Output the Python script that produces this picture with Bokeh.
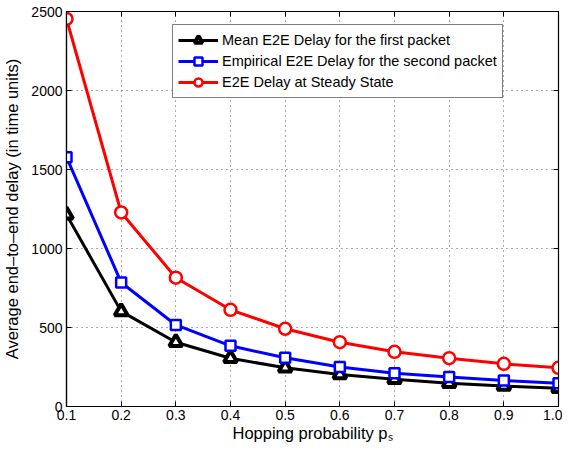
from bokeh.plotting import figure
from bokeh.models import (LinearAxis, FixedTicker, Range1d, Legend, LegendItem,
                          CustomLabelingPolicy)
from bokeh.embed import file_html
from bokeh.resources import INLINE

p_s = [0.1, 0.2, 0.3, 0.4, 0.5, 0.6, 0.7, 0.8, 0.9, 1.0]
mean_first = [1214, 602, 407, 305, 245, 203, 172, 147, 130, 115]
empirical_second = [1578, 785, 516, 384, 308, 250, 210, 187, 164, 147]
steady_state = [2453, 1228, 815, 612, 492, 407, 346, 306, 270, 245]

x_ticks = [0.1, 0.2, 0.3, 0.4, 0.5, 0.6, 0.7, 0.8, 0.9, 1.0]
y_ticks = [0, 500, 1000, 1500, 2000, 2500]

series_labels = ["Mean E2E Delay for the first packet",
                 "Empirical E2E Delay for the second packet",
                 "E2E Delay at Steady State"]

FONT = "Liberation Sans"

p = figure(width=562, height=444, output_backend="svg", toolbar_location=None,
           x_range=Range1d(0.1, 1.0), y_range=Range1d(0, 2500),
           min_border_left=66, min_border_right=4, min_border_top=11,
           min_border_bottom=36)

p.outline_line_color = "black"
p.outline_line_width = 1.2
p.background_fill_color = "white"

for ax in [p.xaxis[0], p.yaxis[0]]:
    ax.major_tick_in = 5
    ax.major_tick_out = 0
    ax.minor_tick_line_color = None
    ax.axis_line_color = "black"
    ax.axis_line_width = 1.2
    ax.major_label_text_font = FONT
    ax.major_label_text_font_size = "14px"
    ax.major_label_text_color = "black"
    ax.axis_label_text_font = FONT
    ax.axis_label_text_font_size = "16.5px"
    ax.axis_label_text_font_style = "normal"
    ax.axis_label_text_color = "black"

p.xaxis.ticker = FixedTicker(ticks=x_ticks)
p.xaxis.major_label_overrides = {t: f"{t:.1f}" for t in x_ticks}
p.yaxis.ticker = FixedTicker(ticks=y_ticks)
p.xaxis.major_label_standoff = 3
p.yaxis.major_label_standoff = 4
p.xaxis.axis_label = "Hopping probability p\u209b"
p.xaxis.axis_label_standoff = 1
p.yaxis.axis_label = "Average end\u2013to\u2013end delay (in time units)"
p.yaxis.axis_label_standoff = 7

# mirrored ticks on top and right, with no labels
hide_all = "for (const i of indices) { indices.unset(i) }\nreturn indices"
common = dict(major_tick_in=5, major_tick_out=0, minor_tick_line_color=None,
              major_label_standoff=0, major_label_text_font_size="0px",
              axis_line_color="black")
top = LinearAxis(ticker=FixedTicker(ticks=x_ticks),
                 major_label_policy=CustomLabelingPolicy(code=hide_all), **common)
right = LinearAxis(ticker=FixedTicker(ticks=y_ticks),
                   major_label_policy=CustomLabelingPolicy(code=hide_all), **common)
p.add_layout(top, "above")
p.add_layout(right, "right")

p.xgrid.ticker = FixedTicker(ticks=x_ticks)
p.ygrid.ticker = FixedTicker(ticks=y_ticks)
for g in [p.xgrid[0], p.ygrid[0]]:
    g.grid_line_color = "#555555"
    g.grid_line_dash = "1 4"
    g.grid_line_width = 1

l1 = p.line(p_s, mean_first, line_color="black", line_width=3)
m1 = p.scatter(p_s, mean_first, marker="triangle", size=13, line_color="black",
               fill_color="white", line_width=4)
l2 = p.line(p_s, empirical_second, line_color="#0000ff", line_width=3)
m2 = p.scatter(p_s, empirical_second, marker="square", size=10, line_color="#0000ff",
               fill_color="white", line_width=2.5)
l3 = p.line(p_s, steady_state, line_color="#ff0000", line_width=3)
m3 = p.scatter(p_s, steady_state, marker="circle", size=12, line_color="#ff0000",
               fill_color="white", line_width=2.5)

legend = Legend(items=[LegendItem(label=series_labels[0], renderers=[l1, m1]),
                       LegendItem(label=series_labels[1], renderers=[l2, m2]),
                       LegendItem(label=series_labels[2], renderers=[l3, m3])],
                location=(106, 308))
legend.border_line_color = "black"
legend.border_line_width = 1.2
legend.background_fill_alpha = 1
legend.label_text_font = FONT
legend.label_text_font_size = "14.5px"
legend.label_text_color = "black"
legend.glyph_width = 40
legend.glyph_height = 20
legend.label_height = 20
legend.spacing = 1
legend.padding = 5
legend.margin = 0
legend.label_standoff = 4
p.add_layout(legend, "center")

open("out.html", "w").write(file_html(p, INLINE))
